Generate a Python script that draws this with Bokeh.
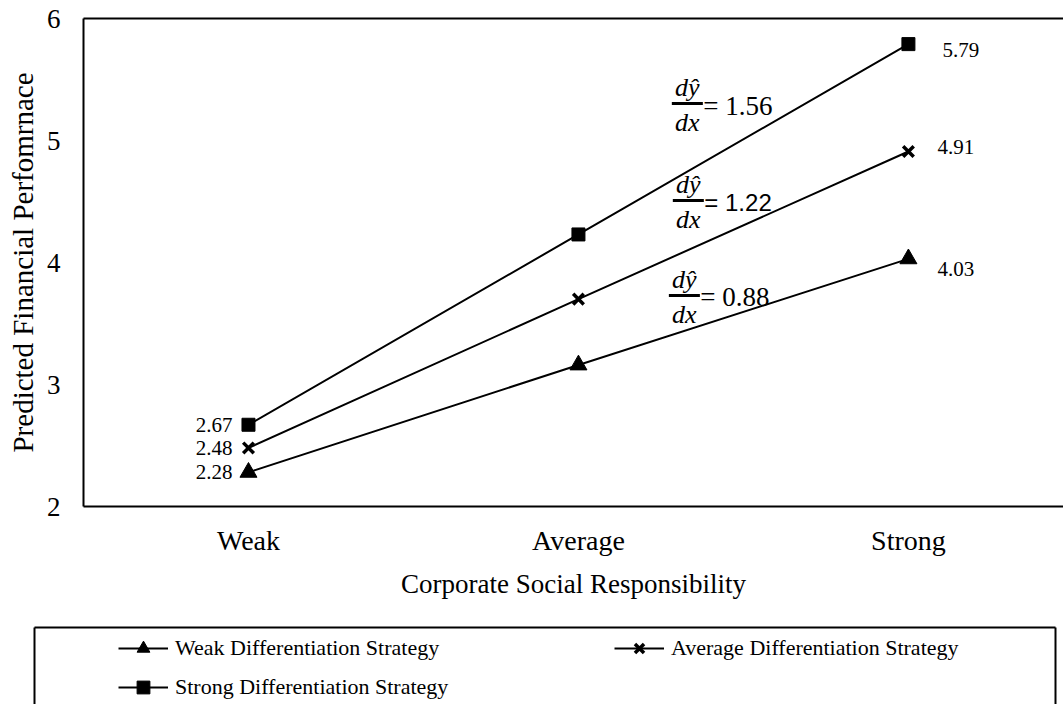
from bokeh.plotting import figure
from bokeh.layouts import column, row
from bokeh.models import (Range1d, FixedTicker, Legend, LegendItem, Label,
                          LinearAxis, ColumnDataSource, Arrow)
from bokeh.core.properties import value
from bokeh.embed import file_html
from bokeh.resources import INLINE

# ---------------- data ----------------
categories = ["Weak", "Average", "Strong"]
series_names = ["Weak Differentiation Strategy",
                "Average Differentiation Strategy",
                "Strong Differentiation Strategy"]
weak_diff = [2.28, 3.16, 4.03]
average_diff = [2.48, 3.70, 4.91]
strong_diff = [2.67, 4.23, 5.79]
y_ticks = [2, 3, 4, 5, 6]
slope_labels = ["1.56", "1.22", "0.88"]
x_title = "Corporate Social Responsibility"
y_title = "Predicted Financial Perfomrnace"

# ---------------- styles ----------------
SERIF = "Liberation Serif"
series_values = [weak_diff, average_diff, strong_diff]
marker_styles = [
    dict(marker="triangle", size=17, line_width=1),
    dict(marker="x", size=15, line_width=3.5),
    dict(marker="square", size=13, line_width=1),
]
right_label_dy = [10, -4, 6]      # px, screen offsets for end labels
right_label_dx = [29, 29, 34]
# slope annotation anchors (data units of the plot) and fonts
slope_anchor = [(1.330, 5.303), (1.333, 4.508), (1.321, 3.730)]
slope_font = [SERIF, "Liberation Sans", SERIF]
slope_size = ["27px", "24px", "27px"]

xs = list(range(len(categories)))


def line_only_axis():
    return LinearAxis(ticker=FixedTicker(ticks=[]), axis_line_width=2, axis_line_color="black",
                      major_tick_line_color=None, minor_tick_line_color=None,
                      major_tick_out=0, minor_tick_out=0, major_label_standoff=0,
                      major_label_text_font_size="0px")


# ================= chart =================
p = figure(width=1063, height=610,
           x_range=Range1d(-0.5, 2.47), y_range=Range1d(2, 6),
           output_backend="svg", toolbar_location=None,
           min_border_left=83, min_border_top=18, min_border_right=0,
           min_border_bottom=104)
p.background_fill_color = "white"
p.border_fill_color = "white"
p.outline_line_color = None
p.xgrid.visible = False
p.ygrid.visible = False

# x axis
xa = p.xaxis[0]
xa.ticker = FixedTicker(ticks=xs)
xa.major_label_overrides = {i: c for i, c in enumerate(categories)}
xa.axis_line_width = 2
xa.axis_line_color = "black"
xa.major_tick_line_color = None
xa.minor_tick_line_color = None
xa.major_tick_out = 0
xa.minor_tick_out = 0
xa.major_label_standoff = 18
xa.major_label_text_font = SERIF
xa.major_label_text_font_size = "28px"
xa.major_label_text_color = "black"
xa.axis_label = x_title
xa.axis_label_text_font = SERIF
xa.axis_label_text_font_size = "27px"
xa.axis_label_text_font_style = "normal"
xa.axis_label_text_color = "black"
xa.axis_label_standoff = 10

# y axis
ya = p.yaxis[0]
ya.ticker = FixedTicker(ticks=y_ticks)
ya.axis_line_width = 2
ya.axis_line_color = "black"
ya.major_tick_line_color = None
ya.minor_tick_line_color = None
ya.major_tick_out = 0
ya.minor_tick_out = 0
ya.major_label_standoff = 23
ya.major_label_text_font = SERIF
ya.major_label_text_font_size = "27px"
ya.major_label_text_color = "black"
ya.axis_label = y_title
ya.axis_label_text_font = SERIF
ya.axis_label_text_font_size = "29px"
ya.axis_label_text_font_style = "normal"
ya.axis_label_text_color = "black"
ya.axis_label_standoff = 5

# top frame line
p.add_layout(line_only_axis(), "above")

# ---------------- series ----------------
for i, (name, vals, ms) in enumerate(zip(series_names, series_values, marker_styles)):
    src = ColumnDataSource(dict(x=xs, y=vals))
    p.line("x", "y", source=src, line_color="black", line_width=2)
    p.scatter("x", "y", source=src, marker=ms["marker"], size=ms["size"],
              fill_color="black", line_color="black", line_width=ms["line_width"])
    # start label (left of Weak)
    p.text(x=[xs[0]], y=[vals[0]], text=[f"{vals[0]:.2f}"], x_offset=-16,
           text_align="right", text_baseline="middle",
           text_font=value(SERIF), text_font_size="21px", text_color="black")
    # end label (right of Strong)
    p.text(x=[xs[-1]], y=[vals[-1]], text=[f"{vals[-1]:.2f}"], x_offset=right_label_dx[i],
           y_offset=right_label_dy[i],
           text_align="left", text_baseline="middle",
           text_font=value(SERIF), text_font_size="21px", text_color="black")

# ---------------- slope annotations ----------------
for (ax, ay), lab, fnt, fsz in zip(slope_anchor, slope_labels, slope_font, slope_size):
    p.add_layout(Label(x=ax, y=ay, y_offset=16, text="d\u0177", text_align="center",
                       text_baseline="middle", text_font=SERIF, text_font_style="italic",
                       text_font_size="26px", text_color="black"))
    p.add_layout(Label(x=ax, y=ay, y_offset=-19, text="dx", text_align="center",
                       text_baseline="middle", text_font=SERIF, text_font_style="italic",
                       text_font_size="26px", text_color="black"))
    p.add_layout(Arrow(start=None, end=None, x_start=ax - 0.047, y_start=ay,
                       x_end=ax + 0.047, y_end=ay, line_width=3, line_color="black"))
    p.add_layout(Label(x=ax, y=ay, x_offset=16, y_offset=-2, text="= " + lab,
                       text_align="left", text_baseline="middle", text_font=fnt,
                       text_font_size=fsz, text_color="black"))

# ================= legend panel =================
p2 = figure(width=1063, height=94, x_range=Range1d(0, 1), y_range=Range1d(0, 1),
            x_axis_type=None, y_axis_type=None,
            output_backend="svg", toolbar_location=None,
            min_border_left=34, min_border_right=8, min_border_top=17, min_border_bottom=0)
p2.background_fill_color = "white"
p2.border_fill_color = "white"
p2.outline_line_color = None
p2.xgrid.visible = False
p2.ygrid.visible = False
p2.add_layout(line_only_axis(), "left")
p2.add_layout(line_only_axis(), "right")
p2.add_layout(line_only_axis(), "above")

items = []
nan = float("nan")
for name, ms in zip(series_names, marker_styles):
    # legend-only renderers (a single NaN point draws nothing in the panel)
    lr = p2.line(x=[nan], y=[nan], line_color="black", line_width=2)
    sr = p2.scatter(x=[nan], y=[nan], marker=ms["marker"], fill_color="black",
                    line_color="black", line_width=ms["line_width"])
    items.append(LegendItem(label=name, renderers=[lr, sr]))

legend = Legend(items=items, location=(84, 1), orientation="horizontal", ncols=2,
                label_text_font=SERIF, label_text_font_size="22px", label_text_color="black",
                glyph_width=50, glyph_height=32, label_height=32, label_width=432,
                label_standoff=7, spacing=7, padding=0, margin=0,
                border_line_color=None, background_fill_alpha=0)
p2.add_layout(legend, "center")

layout = column(p, row(p2), spacing=0)
open("out.html", "w").write(file_html(layout, INLINE))
